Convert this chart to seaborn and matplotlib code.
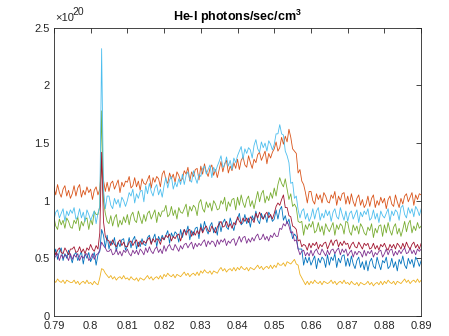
import numpy as np
import pandas as pd
import matplotlib
matplotlib.use("Agg")
import matplotlib.pyplot as plt
import seaborn as sns

# sample positions along the wavelength axis: 0.790 .. 0.890, every 0.0005
x_vals = np.round(np.linspace(0.79, 0.89, 201), 4)

# values in units of 1e20 photons/sec/cm^3 (10 samples per row)
blue = [0.51, 0.58, 0.49, 0.56, 0.59, 0.48, 0.54, 0.50, 0.57, 0.52,
        0.46, 0.53, 0.55, 0.48, 0.52, 0.56, 0.45, 0.54, 0.50, 0.55,
        0.47, 0.51, 0.55, 0.44, 0.53, 0.56, 0.75, 0.70, 0.59, 0.70,
        0.58, 0.65, 0.62, 0.68, 0.56, 0.64, 0.60, 0.66, 0.67, 0.57,
        0.61, 0.68, 0.59, 0.66, 0.69, 0.58, 0.64, 0.60, 0.67, 0.62,
        0.61, 0.68, 0.70, 0.63, 0.67, 0.71, 0.60, 0.69, 0.65, 0.70,
        0.66, 0.70, 0.74, 0.63, 0.72, 0.68, 0.73, 0.71, 0.64, 0.75,
        0.68, 0.75, 0.72, 0.78, 0.66, 0.74, 0.70, 0.76, 0.77, 0.67,
        0.80, 0.73, 0.82, 0.75, 0.71, 0.78, 0.81, 0.72, 0.77, 0.70,
        0.82, 0.73, 0.81, 0.84, 0.77, 0.75, 0.85, 0.79, 0.74, 0.82,
        0.84, 0.89, 0.79, 0.81, 0.88, 0.80, 0.85, 0.77, 0.87, 0.83,
        0.91, 0.83, 0.80, 0.89, 0.84, 0.88, 0.81, 0.90, 0.87, 0.82,
        0.84, 0.92, 0.84, 0.92, 0.95, 0.83, 0.87, 0.80, 0.84, 0.75,
        0.67, 0.71, 0.69, 0.58, 0.58, 0.58, 0.44, 0.51, 0.46, 0.51,
        0.44, 0.48, 0.52, 0.41, 0.50, 0.46, 0.51, 0.49, 0.42, 0.53,
        0.44, 0.51, 0.48, 0.54, 0.42, 0.50, 0.46, 0.52, 0.53, 0.43,
        0.50, 0.43, 0.52, 0.45, 0.41, 0.48, 0.51, 0.42, 0.47, 0.40,
        0.48, 0.39, 0.47, 0.50, 0.43, 0.41, 0.51, 0.45, 0.40, 0.48,
        0.46, 0.51, 0.41, 0.43, 0.50, 0.42, 0.47, 0.39, 0.49, 0.45,
        0.52, 0.44, 0.41, 0.50, 0.45, 0.49, 0.42, 0.51, 0.48, 0.43,
        0.48]

orange = [1.12, 1.05, 1.14, 1.07, 1.03, 1.10, 1.13, 1.04, 1.09, 1.02,
          1.06, 1.13, 1.04, 1.11, 1.14, 1.03, 1.09, 1.05, 1.12, 1.07,
          1.10, 1.01, 1.09, 1.12, 1.05, 1.10, 1.30, 1.18, 1.08, 1.16,
          1.08, 1.15, 1.17, 1.10, 1.14, 1.18, 1.07, 1.16, 1.12, 1.17,
          1.16, 1.21, 1.11, 1.13, 1.20, 1.12, 1.17, 1.09, 1.19, 1.15,
          1.14, 1.18, 1.22, 1.11, 1.20, 1.16, 1.21, 1.19, 1.12, 1.23,
          1.26, 1.18, 1.15, 1.24, 1.19, 1.23, 1.16, 1.25, 1.22, 1.17,
          1.19, 1.26, 1.23, 1.29, 1.17, 1.25, 1.21, 1.27, 1.28, 1.18,
          1.30, 1.23, 1.32, 1.25, 1.21, 1.28, 1.31, 1.22, 1.27, 1.20,
          1.27, 1.34, 1.25, 1.32, 1.35, 1.24, 1.30, 1.26, 1.33, 1.28,
          1.36, 1.27, 1.35, 1.38, 1.31, 1.29, 1.39, 1.33, 1.28, 1.36,
          1.33, 1.40, 1.42, 1.35, 1.39, 1.43, 1.32, 1.41, 1.37, 1.42,
          1.45, 1.51, 1.43, 1.46, 1.55, 1.49, 1.56, 1.51, 1.62, 1.55,
          1.45, 1.43, 1.41, 1.24, 1.27, 1.17, 1.14, 1.07, 0.98, 1.08,
          1.08, 1.00, 0.97, 1.06, 1.01, 1.05, 0.98, 1.07, 1.04, 0.99,
          0.98, 1.05, 1.02, 1.08, 0.96, 1.04, 1.00, 1.06, 1.07, 0.97,
          1.04, 0.97, 1.06, 0.99, 0.95, 1.02, 1.05, 0.96, 1.01, 0.94,
          0.97, 1.04, 0.95, 1.02, 1.05, 0.94, 1.00, 0.96, 1.03, 0.98,
          1.02, 0.93, 1.01, 1.04, 0.97, 0.95, 1.05, 0.99, 0.94, 1.02,
          0.97, 1.04, 1.06, 0.99, 1.03, 1.07, 0.96, 1.05, 1.01, 1.06,
          1.05]

yellow = [0.31, 0.29, 0.32, 0.30, 0.29, 0.31, 0.28, 0.31, 0.30, 0.29,
          0.29, 0.31, 0.28, 0.30, 0.27, 0.29, 0.30, 0.28, 0.31, 0.28,
          0.29, 0.27, 0.30, 0.28, 0.27, 0.33, 0.41, 0.40, 0.37, 0.35,
          0.33, 0.35, 0.32, 0.34, 0.31, 0.33, 0.34, 0.32, 0.35, 0.32,
          0.33, 0.31, 0.34, 0.32, 0.31, 0.33, 0.30, 0.33, 0.32, 0.31,
          0.33, 0.35, 0.32, 0.34, 0.31, 0.33, 0.34, 0.32, 0.35, 0.32,
          0.36, 0.34, 0.37, 0.35, 0.34, 0.36, 0.33, 0.36, 0.35, 0.34,
          0.36, 0.38, 0.35, 0.37, 0.34, 0.36, 0.37, 0.35, 0.38, 0.35,
          0.39, 0.37, 0.40, 0.38, 0.37, 0.39, 0.36, 0.39, 0.38, 0.37,
          0.40, 0.42, 0.39, 0.41, 0.38, 0.40, 0.41, 0.39, 0.42, 0.39,
          0.42, 0.40, 0.43, 0.41, 0.40, 0.42, 0.39, 0.42, 0.41, 0.40,
          0.42, 0.44, 0.41, 0.43, 0.40, 0.42, 0.43, 0.41, 0.44, 0.41,
          0.44, 0.42, 0.46, 0.44, 0.44, 0.46, 0.43, 0.47, 0.46, 0.45,
          0.47, 0.49, 0.45, 0.44, 0.36, 0.33, 0.30, 0.27, 0.30, 0.27,
          0.30, 0.28, 0.31, 0.29, 0.28, 0.30, 0.27, 0.30, 0.29, 0.28,
          0.29, 0.31, 0.28, 0.30, 0.27, 0.29, 0.30, 0.28, 0.31, 0.28,
          0.29, 0.27, 0.30, 0.28, 0.27, 0.29, 0.26, 0.29, 0.28, 0.27,
          0.28, 0.30, 0.27, 0.29, 0.26, 0.28, 0.29, 0.27, 0.30, 0.27,
          0.30, 0.28, 0.31, 0.29, 0.28, 0.30, 0.27, 0.30, 0.29, 0.28,
          0.30, 0.32, 0.29, 0.31, 0.28, 0.30, 0.31, 0.29, 0.32, 0.29,
          0.31]

purple = [0.49, 0.52, 0.54, 0.48, 0.53, 0.50, 0.53, 0.52, 0.48, 0.54,
          0.49, 0.53, 0.51, 0.54, 0.48, 0.52, 0.50, 0.53, 0.54, 0.48,
          0.50, 0.54, 0.49, 0.53, 0.54, 0.57, 0.64, 0.61, 0.59, 0.56,
          0.56, 0.58, 0.53, 0.54, 0.58, 0.53, 0.56, 0.52, 0.57, 0.55,
          0.58, 0.54, 0.52, 0.57, 0.54, 0.57, 0.53, 0.58, 0.56, 0.53,
          0.59, 0.55, 0.60, 0.56, 0.54, 0.58, 0.60, 0.55, 0.58, 0.54,
          0.61, 0.56, 0.60, 0.62, 0.58, 0.57, 0.62, 0.59, 0.56, 0.61,
          0.58, 0.62, 0.63, 0.59, 0.62, 0.64, 0.58, 0.63, 0.60, 0.63,
          0.61, 0.64, 0.66, 0.60, 0.65, 0.62, 0.65, 0.64, 0.60, 0.66,
          0.62, 0.66, 0.64, 0.67, 0.61, 0.65, 0.63, 0.66, 0.67, 0.61,
          0.65, 0.69, 0.64, 0.68, 0.69, 0.63, 0.67, 0.64, 0.68, 0.65,
          0.69, 0.71, 0.66, 0.67, 0.71, 0.66, 0.69, 0.65, 0.70, 0.68,
          0.72, 0.69, 0.69, 0.76, 0.75, 0.80, 0.78, 0.82, 0.78, 0.72,
          0.73, 0.65, 0.66, 0.58, 0.53, 0.56, 0.57, 0.52, 0.55, 0.52,
          0.57, 0.52, 0.56, 0.58, 0.54, 0.53, 0.58, 0.55, 0.52, 0.57,
          0.53, 0.57, 0.58, 0.54, 0.57, 0.59, 0.53, 0.58, 0.55, 0.58,
          0.52, 0.55, 0.57, 0.51, 0.56, 0.53, 0.56, 0.55, 0.51, 0.57,
          0.52, 0.56, 0.54, 0.57, 0.51, 0.55, 0.53, 0.56, 0.57, 0.51,
          0.54, 0.58, 0.53, 0.57, 0.58, 0.52, 0.56, 0.53, 0.57, 0.54,
          0.57, 0.59, 0.54, 0.55, 0.59, 0.54, 0.57, 0.53, 0.58, 0.56,
          0.58]

green = [0.86, 0.78, 0.75, 0.84, 0.79, 0.83, 0.76, 0.85, 0.82, 0.77,
         0.76, 0.83, 0.80, 0.86, 0.74, 0.82, 0.78, 0.84, 0.85, 0.75,
         0.84, 0.79, 0.91, 0.88, 0.88, 0.95, 1.78, 1.00, 0.89, 0.82,
         0.80, 0.87, 0.78, 0.85, 0.88, 0.77, 0.83, 0.79, 0.86, 0.81,
         0.88, 0.79, 0.87, 0.90, 0.83, 0.81, 0.91, 0.85, 0.80, 0.88,
         0.82, 0.89, 0.91, 0.84, 0.88, 0.92, 0.81, 0.90, 0.86, 0.91,
         0.91, 0.96, 0.86, 0.88, 0.95, 0.87, 0.92, 0.84, 0.94, 0.90,
         0.89, 0.93, 0.97, 0.86, 0.95, 0.91, 0.96, 0.94, 0.87, 0.98,
         1.01, 0.93, 0.90, 0.99, 0.94, 0.98, 0.91, 1.00, 0.97, 0.92,
         0.93, 1.00, 0.97, 1.03, 0.91, 0.99, 0.95, 1.01, 1.02, 0.92,
         1.03, 0.96, 1.05, 0.98, 0.94, 1.01, 1.04, 0.95, 1.00, 0.93,
         1.01, 1.08, 0.99, 1.06, 1.09, 0.98, 1.04, 1.00, 1.07, 1.02,
         1.11, 1.04, 1.14, 1.20, 1.15, 1.12, 1.19, 1.10, 1.01, 1.06,
         0.95, 0.97, 0.94, 0.82, 0.81, 0.82, 0.70, 0.79, 0.75, 0.80,
         0.77, 0.82, 0.72, 0.74, 0.81, 0.73, 0.78, 0.70, 0.80, 0.76,
         0.73, 0.77, 0.81, 0.70, 0.79, 0.75, 0.80, 0.78, 0.71, 0.82,
         0.81, 0.73, 0.70, 0.79, 0.74, 0.78, 0.71, 0.80, 0.77, 0.72,
         0.70, 0.77, 0.74, 0.80, 0.68, 0.76, 0.72, 0.78, 0.79, 0.69,
         0.79, 0.72, 0.81, 0.74, 0.70, 0.77, 0.80, 0.71, 0.76, 0.69,
         0.75, 0.82, 0.73, 0.80, 0.83, 0.72, 0.78, 0.74, 0.81, 0.76,
         0.78]

lightblue = [0.83, 0.90, 0.92, 0.85, 0.89, 0.93, 0.82, 0.91, 0.87, 0.92,
             0.89, 0.94, 0.84, 0.86, 0.93, 0.85, 0.90, 0.82, 0.92, 0.88,
             0.83, 0.87, 0.91, 0.80, 0.89, 0.95, 2.32, 1.10, 0.93, 1.04,
             1.04, 0.96, 0.93, 1.02, 0.97, 1.01, 0.94, 1.03, 1.00, 0.95,
             1.00, 1.07, 1.04, 1.10, 0.98, 1.06, 1.02, 1.08, 1.09, 0.99,
             1.13, 1.06, 1.15, 1.08, 1.04, 1.11, 1.14, 1.05, 1.10, 1.03,
             1.13, 1.20, 1.11, 1.18, 1.21, 1.10, 1.16, 1.12, 1.19, 1.14,
             1.23, 1.14, 1.22, 1.25, 1.18, 1.16, 1.26, 1.20, 1.15, 1.23,
             1.21, 1.28, 1.30, 1.23, 1.27, 1.31, 1.20, 1.29, 1.25, 1.30,
             1.34, 1.39, 1.29, 1.31, 1.38, 1.30, 1.35, 1.27, 1.37, 1.33,
             1.39, 1.43, 1.47, 1.36, 1.45, 1.41, 1.46, 1.44, 1.37, 1.48,
             1.53, 1.45, 1.42, 1.51, 1.46, 1.50, 1.43, 1.52, 1.49, 1.44,
             1.49, 1.58, 1.58, 1.66, 1.58, 1.57, 1.43, 1.39, 1.33, 1.15,
             1.16, 1.02, 1.04, 0.92, 0.85, 0.91, 0.93, 0.84, 0.89, 0.82,
             0.86, 0.93, 0.84, 0.91, 0.94, 0.83, 0.89, 0.85, 0.92, 0.87,
             0.91, 0.82, 0.90, 0.93, 0.86, 0.84, 0.94, 0.88, 0.83, 0.91,
             0.82, 0.89, 0.91, 0.84, 0.88, 0.92, 0.81, 0.90, 0.86, 0.91,
             0.88, 0.93, 0.83, 0.85, 0.92, 0.84, 0.89, 0.81, 0.91, 0.87,
             0.85, 0.89, 0.93, 0.82, 0.91, 0.87, 0.92, 0.90, 0.83, 0.94,
             0.96, 0.88, 0.85, 0.94, 0.89, 0.93, 0.86, 0.95, 0.92, 0.87,
             0.93]

darkred = [0.58, 0.53, 0.57, 0.59, 0.55, 0.54, 0.59, 0.56, 0.53, 0.58,
           0.58, 0.60, 0.55, 0.56, 0.60, 0.55, 0.58, 0.54, 0.59, 0.57,
           0.62, 0.58, 0.56, 0.61, 0.58, 0.72, 1.42, 0.82, 0.69, 0.66,
           0.65, 0.61, 0.66, 0.62, 0.60, 0.64, 0.66, 0.61, 0.64, 0.60,
           0.60, 0.64, 0.65, 0.61, 0.64, 0.66, 0.60, 0.65, 0.62, 0.65,
           0.63, 0.66, 0.68, 0.62, 0.67, 0.64, 0.67, 0.66, 0.62, 0.68,
           0.66, 0.70, 0.68, 0.71, 0.65, 0.69, 0.67, 0.70, 0.71, 0.65,
           0.71, 0.75, 0.70, 0.74, 0.75, 0.69, 0.73, 0.70, 0.74, 0.71,
           0.77, 0.72, 0.76, 0.78, 0.74, 0.73, 0.78, 0.75, 0.72, 0.77,
           0.80, 0.82, 0.77, 0.78, 0.82, 0.77, 0.80, 0.76, 0.81, 0.79,
           0.86, 0.82, 0.80, 0.85, 0.82, 0.85, 0.81, 0.86, 0.84, 0.81,
           0.89, 0.85, 0.90, 0.86, 0.84, 0.88, 0.90, 0.85, 0.88, 0.84,
           0.89, 0.95, 0.98, 0.96, 1.01, 1.05, 0.94, 0.94, 0.87, 0.86,
           0.78, 0.77, 0.75, 0.65, 0.66, 0.60, 0.62, 0.61, 0.57, 0.63,
           0.59, 0.63, 0.61, 0.64, 0.58, 0.62, 0.60, 0.63, 0.64, 0.58,
           0.62, 0.66, 0.61, 0.65, 0.66, 0.60, 0.64, 0.61, 0.65, 0.62,
           0.63, 0.58, 0.62, 0.64, 0.60, 0.59, 0.64, 0.61, 0.58, 0.63,
           0.61, 0.63, 0.58, 0.59, 0.63, 0.58, 0.61, 0.57, 0.62, 0.60,
           0.63, 0.59, 0.57, 0.62, 0.59, 0.62, 0.58, 0.63, 0.61, 0.58,
           0.63, 0.59, 0.64, 0.60, 0.58, 0.62, 0.64, 0.59, 0.62, 0.58,
           0.63]

series_names = ["s1", "s2", "s3", "s4", "s5", "s6", "s7"]
series_vals = [blue, orange, yellow, purple, green, lightblue, darkred]
colors = ["#0072BD", "#D95319", "#EDB120", "#7E2F8E", "#77AC30", "#4DBEEE", "#A2142F"]

x_ticks = [0.79, 0.80, 0.81, 0.82, 0.83, 0.84, 0.85, 0.86, 0.87, 0.88, 0.89]
y_ticks = [0, 0.5, 1, 1.5, 2, 2.5]

frames = []
for name, vals in zip(series_names, series_vals):
    frames.append(pd.DataFrame({"x": x_vals, "y": vals, "series": name}))
df = pd.concat(frames, ignore_index=True)

sns.set_style("white")
plt.rcParams["font.family"] = ["Liberation Sans", "DejaVu Sans"]
plt.rcParams["mathtext.fontset"] = "custom"
plt.rcParams["mathtext.rm"] = "Liberation Sans"
plt.rcParams["mathtext.it"] = "Liberation Sans:italic"
plt.rcParams["mathtext.bf"] = "Liberation Sans:bold"

fig = plt.figure(figsize=(4.49, 3.36), dpi=100)
ax = fig.add_axes([0.120, 0.060, 0.818, 0.857])

sns.lineplot(data=df, x="x", y="y", hue="series", hue_order=series_names,
             palette=colors, estimator=None, sort=False, legend=False,
             linewidth=0.6, ax=ax)

ax.set_xlim(0.79, 0.89)
ax.set_ylim(0, 2.5)
ax.set_xticks(x_ticks)
ax.set_xticklabels([f"{v:g}" for v in x_ticks])
ax.set_yticks(y_ticks)
ax.set_yticklabels([f"{v:g}" for v in y_ticks])
ax.set_xlabel("")
ax.set_ylabel("")

edge = "#262626"
for s in ax.spines.values():
    s.set_visible(True)
    s.set_color(edge)
    s.set_linewidth(0.6)
ax.tick_params(direction="in", length=3.5, width=0.6, colors=edge,
               labelsize=8, top=True, right=True)
ax.tick_params(axis="x", pad=4)
ax.tick_params(axis="y", pad=3)

ax.set_title(r"He-I photons/sec/cm$\mathbf{^3}$", fontsize=9, fontweight="bold",
             color="black", pad=5)
# exponent label of the y axis, MATLAB style
fig.text(55 / 449, 1 - 21 / 336, "\u00d710", fontsize=8, color=edge,
         ha="left", va="baseline")
fig.text(72 / 449, 1 - 15 / 336, "20", fontsize=7.5, color=edge,
         ha="left", va="baseline")

fig.savefig("out.png", dpi=100, facecolor="white")
